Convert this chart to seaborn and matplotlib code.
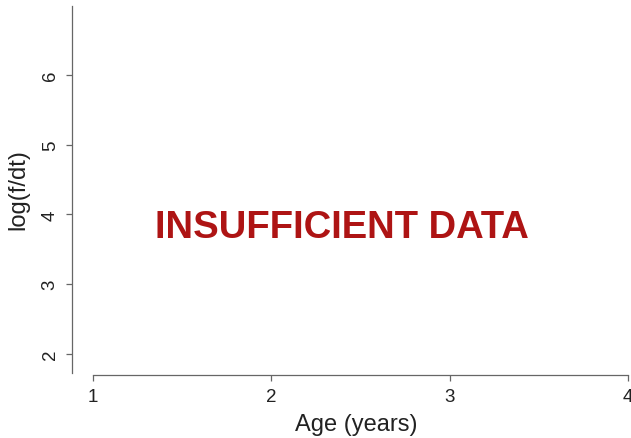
import matplotlib
matplotlib.use("Agg")
import matplotlib.pyplot as plt
import seaborn as sns
import pandas as pd

# Axis ticks and the (empty) observations for this panel
age_ticks = [1, 2, 3, 4]
logf_ticks = [2, 3, 4, 5, 6]
age_obs = []
logf_obs = []
message = "INSUFFICIENT DATA"

sns.set_theme(style="white")
plt.rcParams["font.family"] = ["Liberation Sans", "DejaVu Sans"]

W, H = 631, 439
fig = plt.figure(figsize=(W / 100, H / 100), dpi=100)
ax = fig.add_axes([72 / W, 1 - 376 / H, (W - 72) / W, 376 / H])

df = pd.DataFrame({"age": pd.Series(age_obs, dtype=float),
                   "logf": pd.Series(logf_obs, dtype=float)})
sns.scatterplot(data=df, x="age", y="logf", ax=ax)

ax.set_xlim(0.8822, 4.0174)
ax.set_ylim(1.70, 7.0857)
ax.set_xticks(age_ticks)
ax.set_yticks(logf_ticks)
ax.set_xticklabels([str(v) for v in age_ticks])
ax.set_yticklabels([str(v) for v in logf_ticks])

axis_col = "#666666"
for side in ("top", "right"):
    ax.spines[side].set_visible(False)
for side in ("left", "bottom"):
    ax.spines[side].set_color(axis_col)
    ax.spines[side].set_linewidth(0.9)
ax.spines["bottom"].set_bounds(1, 4)
ax.spines["left"].set_bounds(1.73, 6.99)

ax.tick_params(axis="both", direction="out", length=4.5, width=0.9,
               color=axis_col, labelcolor="#222222", labelsize=13.5)
ax.tick_params(axis="x", pad=5, bottom=True)
ax.tick_params(axis="y", pad=5, left=True, labelrotation=90)
for lab in ax.get_yticklabels():
    lab.set_verticalalignment("center")

ax.set_xlabel("Age (years)", fontsize=17, color="#222222")
ax.set_ylabel("log(f/dt)", fontsize=17, color="#222222")
ax.xaxis.set_label_coords((356 - 72) / (W - 72), -(425 - 376) / 376)
ax.yaxis.set_label_coords(-(72 - 18) / (W - 72), (376 - 190) / 376)
ax.xaxis.label.set_va("center")
ax.yaxis.label.set_va("center")

ax.text(2.397, 3.82, message, color="#AE1414", fontsize=27.5,
        fontweight="bold", ha="center", va="center")

fig.savefig("out.png", dpi=100)
